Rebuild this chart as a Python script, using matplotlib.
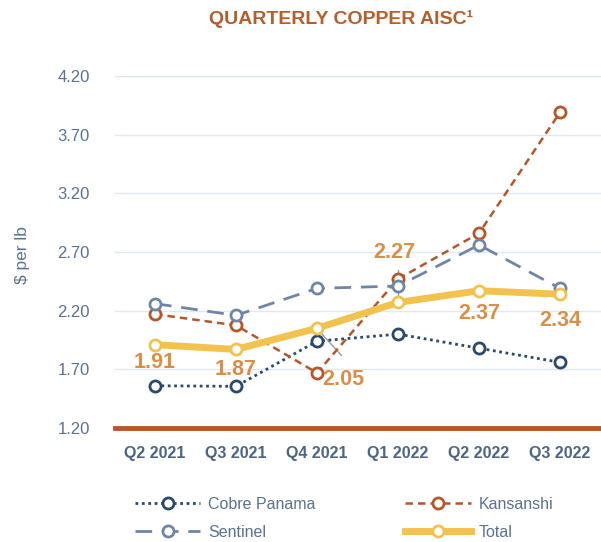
import matplotlib.pyplot as plt

# ------------------------------------------------------------------
# Data
# ------------------------------------------------------------------
quarters = ["Q2 2021", "Q3 2021", "Q4 2021", "Q1 2022", "Q2 2022", "Q3 2022"]
cobre_panama = [1.56, 1.555, 1.94, 2.00, 1.88, 1.76]
kansanshi = [2.17, 2.075, 1.67, 2.47, 2.86, 3.89]
sentinel = [2.26, 2.16, 2.39, 2.41, 2.76, 2.39]
total = [1.91, 1.87, 2.05, 2.27, 2.37, 2.34]

# label spots for total values (x, y in data units)
label_pos = [(0, 1.755), (1, 1.70), (2.32, 1.61), (2.96, 2.70), (4.0, 2.18), (5.0, 2.12)]
yticks = [1.20, 1.70, 2.20, 2.70, 3.20, 3.70, 4.20]

# ------------------------------------------------------------------
# Style
# ------------------------------------------------------------------
plt.rcParams['font.family'] = ['Liberation Sans', 'DejaVu Sans']
SLATE = '#5B7190'
NAVY = '#2B4A6B'
RUST = '#B5572A'
STEEL = '#6F86A5'
GOLD = '#F2C24F'
LABEL = '#DA8F46'

fig = plt.figure(figsize=(6.01, 5.42), dpi=100)
ax = fig.add_axes([115 / 601, 114 / 542, 486 / 601, 352 / 542])

x = list(range(len(quarters)))
mk = dict(marker='o', markersize=8, markerfacecolor='white', markeredgewidth=2)

l_cobre, = ax.plot(x, cobre_panama, color=NAVY, linestyle=(0, (1, 1.3)), linewidth=2,
                   markeredgecolor=NAVY, label='Cobre Panama', zorder=3, **mk)
l_kan, = ax.plot(x, kansanshi, color=RUST, linestyle=(0, (3, 2)), linewidth=1.8,
                 markeredgecolor=RUST, label='Kansanshi', zorder=3, **mk)
l_sen, = ax.plot(x, sentinel, color=STEEL, linestyle=(0, (6, 3.5)), linewidth=2,
                 markeredgecolor=STEEL, label='Sentinel', zorder=3, **mk)
l_tot, = ax.plot(x, total, color=GOLD, linewidth=5, markeredgecolor=GOLD,
                 label='Total', zorder=4, **mk)

# leader lines
ax.plot([2, 2.3], [2.046, 1.82], color='#9A9A9A', linewidth=1, zorder=2)
ax.plot([3, 3], [2.27, 2.545], color='#9A9A9A', linewidth=1, zorder=2)

for (lx, ly), v in zip(label_pos, total):
    ax.text(lx, ly, f"{v:.2f}", color=LABEL, fontsize=15.5, fontweight='bold',
            ha='center', va='center', zorder=5)

ax.set_xlim(-0.494, 5.506)
ax.set_ylim(1.20, 4.20)
ax.set_yticks(yticks)
ax.set_yticklabels([f"{t:.2f}" for t in yticks], color=SLATE, fontsize=12)
ax.set_xticks(x)
ax.set_xticklabels(quarters, color='#4D6584', fontsize=11.5, fontweight='bold')
ax.tick_params(length=0)
ax.tick_params(axis='x', pad=13)
ax.tick_params(axis='y', pad=18)
ax.grid(axis='y', color='#E0E8F7', linewidth=1, zorder=0)
for s in ['top', 'right', 'left']:
    ax.spines[s].set_visible(False)
ax.spines['bottom'].set_color(RUST)
ax.spines['bottom'].set_linewidth(3.5)
ax.spines['bottom'].set_zorder(6)

fig.text(22 / 601, 1 - 255 / 542, "$ per lb", rotation=90, color=SLATE,
         fontsize=12.5, ha='center', va='center')
fig.text(341 / 601, 1 - 19 / 542, "QUARTERLY COPPER AISC\u00b9", color='#B65E2C',
         fontsize=14, fontweight='bold', ha='center', va='center')

fig.legend([l_cobre, l_sen, l_kan, l_tot], ['Cobre Panama', 'Sentinel', 'Kansanshi', 'Total'],
           ncol=2, loc='upper left', bbox_to_anchor=(135 / 601, 1 - 497 / 542), frameon=False,
           fontsize=11.5, labelcolor=SLATE, handlelength=4.1, columnspacing=5.6,
           handletextpad=0.5, labelspacing=0.8, borderpad=0, borderaxespad=0)

fig.savefig('out.png', dpi=100)
